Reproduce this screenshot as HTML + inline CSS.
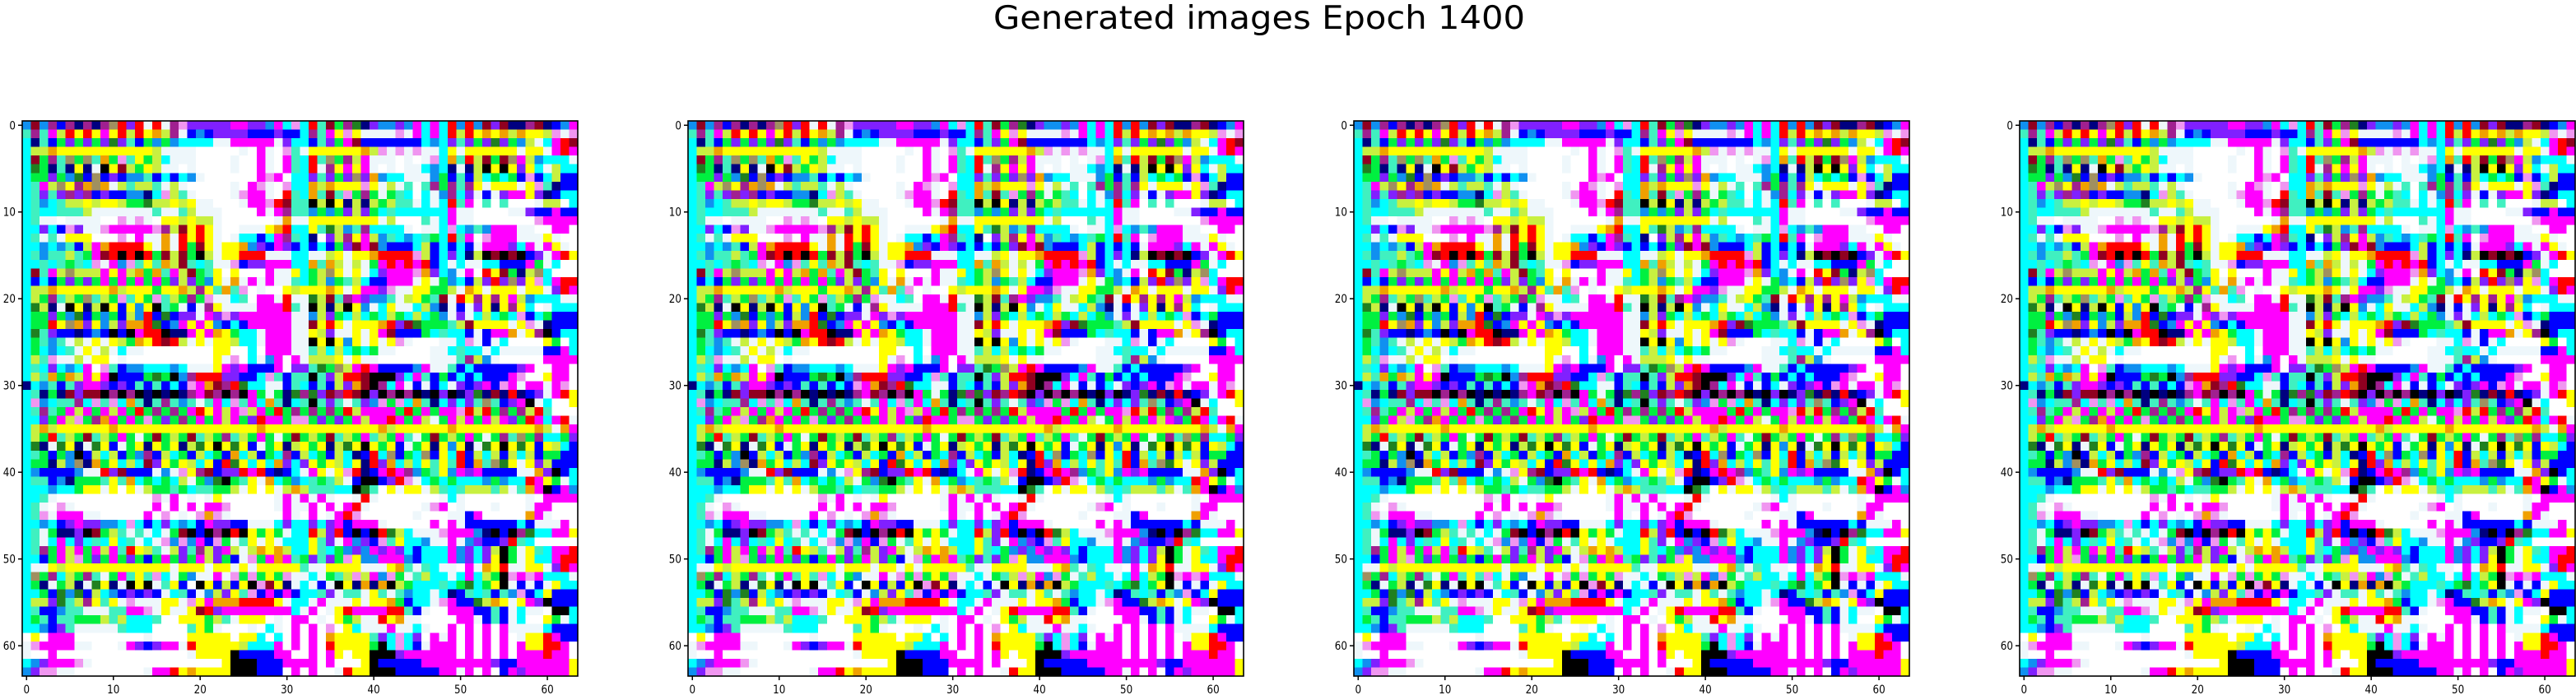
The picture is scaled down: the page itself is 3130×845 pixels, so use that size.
<!DOCTYPE html>
<html>
<head>
<meta charset="utf-8">
<style>
  html,body{margin:0;padding:0;background:#fff;}
  svg{display:block;}
  text{font-family:"DejaVu Sans","Liberation Sans",sans-serif;fill:#000;}
</style>
</head>
<body>
<svg id="fig" width="3130" height="845" viewBox="0 0 3130 845" xmlns="http://www.w3.org/2000/svg">
  <rect x="0" y="0" width="3130" height="845" fill="#fff"/>
  <text x="1530" y="35" font-size="39" text-anchor="middle" textLength="646" lengthAdjust="spacingAndGlyphs">Generated images Epoch 1400</text>
</svg>
<script>
const leftRows = [
"TrTpBpbpbpNRPRwRwpmPPPPPMMPPTMCm","cpcMyRYRYMYRyRYOypwBTBPPPPBBBPBB","CbcBGPGPGPgPcBGTGTCCCCwwMMMMMwPC","CyyOYYYYYYYYYYYywwwwWWWWWwWMwWmc",
"CrGpcNGNcOGmcYGyCwwwWWWWwWWMwWMc","CgGbcbYbwKYryGYywwWwWWWWwWWMwWMc","CGGPGTgBNBPBTTcBCBCTwWWWWWWMmMWC","CcMyNYpONOwycyycwywWWWWWwWMmwWmC",
"CcPcPpPpBPBBTTbCmycwWWWWwmMMwWRc","CcTCcyyYyYYyGGgyyYyYwwWWWwMMmRrc","CcCCcccywwwwwwwcwwcywwwWWWWMwMpc","CcwwWwwwwWWmwmwWYYyYyywWWWWWWwOw",
"CCPCBmPwwmMMMMMmpyrYRYwWWwwwYORC","CcwcwYYYWWWmWMwwOwRYRYwWwCCBCMpc","CCTCTcByMORRRRYwOwRGrYwYYOTPBMPB","CcTccycGMrRKRKRGryrGKywYYRRRwwwC",
"CCcCcGcCmwMTmcYcOyrcCcwwmBPPMMMC","CrcMyNyyyMYMyOGOcMyrGcYWYWWWMwwY","CBCBGPGPGMGMGMGMGPyPGTYwOwMwMwwc","CyyOYYYYYYOyYYYGYYOypYcOcmWwWWYy",
"CyGpcyGNcyGmcYGmcyGpGmwwCcWMMwRw","CgybwKYbyKYBYTYKcGwBwpYwwwwMMMRc","CGGPGTgBGTGByTRBgBPPwMPmPMMMMMMw","CGGRYNOPYTyPOORgBTMYMYTBCBMMMMMw",
"CgcPBBbBTBKBKMRRKbbMYMOYGCCwMMMw","CGcTcwywYwYyGOYRrRywYwYYyCCwMMMw","CGCTCcwYwywCwwWWWWWWWWYYWWCWMMMw","CycmwwywYYWwWWWWWWWWWWYwmWCwTMWM",
"CcCPCTCMWmcBTTCCCTCwwwYMPMBBBMWP","CycOGOyMYMKBBBGgGKTpRRRPPBBCmcBc","bCTcBcPMMPBPBcBcBCBmMOrpRgCCwwBc","CcbGbrPrrKpKpKbKbKbpMrpKpKMGwGbg",
"CmTCccpCmcmCOcbcpcTcwcMCmcMCOcbC","CcpcGMyMGMyMGRGpGpGMRYMyMmyMGRGp","CCPGMymGpOMGMGmGPGpGMGMyMGPRMMGm","CyOyYYYYYYOYYYYYYYYYYYYYYYYOYYYY",
"CyGRcyGrcyGMGwGrGyGrcyGpcyGMGwGr","CgbwgYbwgYBwGYbYGYbygYKYgYBwGYby","CcGBGTKByCyBGTpByCGByCGBOCyBGCpB","CGGbyTNbOGYCyCrPYGYyCYBRgYCYCOPC",
"CTBBBBTwwRPrBBBwTwmYprBPPRMRBbBC","CccBTbGGGcYcOCGCGCywGTgKGcYwOCGT","CCCTCCGYYwYWYwyGGcGCccGGywYWYwyO","CCcwWWWWWWWWWWWmwMWwWwYWWWWWWwMw",
"CcwWmwWWWWWWWWWMWMWMWMMmWWWWWwMw","CcmwMMMwwWWWWWMWmWwWmOmwWWWWWWMw","CCTCBPMPPTTCmCBCPCTCBMPPBBwwwCPC","CcwGbbPKrGycwcwCwGrKBKpKRKYGYGwC",
"CcwCMCPCcCYCcwCwmTmTMBmGwcYwYwCC","CcpGMyMGMyMcRYycwyPcpyPMywyOYOyC","CCBGMymGPGMGPGBGMGPGMyPGBwmGMOMc","CwwYyYYYYYYYYYYYYwYYYwYYwYwYYYYY",
"CNGpCyGpcwGMcYcmCwGTwwMwmGmGYGmw","CGbwGybwgYbwKYKwcYBWKYByBYKmrYbw","CCGBgTgByCTBPBPBwCcBwTyPYcmBMBMB","CyyPgcypYcYwmwwwYYwmYMOOORRRRYwC",
"CcBBTccwwwccMMmwYwwYrRPMMMMMMMMC","CGcBccGGGycyCCCcWWYYYGycwYYYWwWM","CCTBPcwwwwwcCCCWWWWcYGwWWWwWCwWM","WYWMMMWWWWWWWWwWWWWYYYYYWYYCWCWM",
"wmMMMMwwWWWwMPBPMMwRYYYYYyCCCMWM","wWWMWWWWWWWWWWWWWWWwYYYYKBBBBMMW","CTPMMMmwWWWWWWWWWWWWWWWYKKKBBBMM","TPmmwwWWWWWWWWwMMRYOYYYYKKKBBBWM"
];
const rightRows = [
"CRcrGpgbPTTPTMCMCRTRTrPrbbprbBTM","CpcMYmYwwwwmwMCMCRyRYOYOyOYYymwm","CBcPGMrBBBBBBBCTCPcPGPgPGTywCMRr","wYYYYYYOymwmwmwwCYwYYYYYYwYYwMRM",
"CRcNGpyMwwwWwWwmCOcRyrGrNMyTCCCw","CRwpYMYMwWwWwwCTCbwbyKYKYPYCwyCC","CPcPGPNPOTCCwwwTGBcByCGCGBmBCyBB","COyOYYYmYwywcWcpGpcpYwYYYwYmcbBB",
"COcrcmGpGwGcCWCwTpCPwBwPMMYPbBCC","cKyKYbybyGyccwCwCRcMWcWcWWWwyyWC","cTGTGPyPGCcCCCCCCMwwWWWWwwPBBMBB","wYYYYYYYYwyWWWcwCMwwWWWWWWWmMMMM",
"CYcgyTcpCCCCwWwwCmCTcTMMMwwWWMMW","CbWPypYMyTcCTCcGCRcMWmMMMwwwYwWW","CBCBGPrMrTBBBCyBCBCBwMMMPCMwMYwW","CwwyYwYYORRRRmyBCPCbyKrKrKBPwMRY",
"COcOywywGMRMRMRBCwCwwCCBBBMGwCWW","CGyNYwYwCPMMMmOPCTwMWRYrGbyNCWWW","CGyTGcyCBBMMMwYwGTCByPRPNPYmCMRR","YYYOYwYMMPmwwYYGGywOYwYYYwYYwPRM",
"wgyrcpMPTTcwyYGcrwRYpYpYMyTCCCww","wKybyKYTwCYwwCyTbwBwPYbYpYCWwCCC","wTyPGCyCGCyGCyCGTwPwCyCGCmBCGBBB","wrYRYwYYYORPrgGGGcyrYYYYwYmwbBBB",
"wYyPwwYwYMrBBBGCcCCBwBMMOwYpKBCC","wKYKYTYwYwYmwWWWwwCmwBwCWWWWYGWC","wcyCyCGCGwwWWWWwwCcCCwCwwwwwBBMC","wyyyYwYwwWWWWWWwwwcpyTwWWWWWMMMM",
"PcgGNyMRMBBBBTMwwcBCBBBBBPMWWMMW","cKcPyRRrKKKPCMcBGBCBCBBBMmWWYMMW","CBcByPOrKpCMwBwBCwPBPMBmMwMMwMmW","pgPrpRrKPKpKpKbKPKbPgbrbRbBPwMRY",
"cKcPcwcPTmGmCOcbCPCPcNcBPMKwCWWY","GpGpGRyMMMMGRGMGMMmRyRGpGpyRcWWW","mGPGPGMyMMRMGMywGMyMGMyMPGRMCMRw","YYYYYYYYYOyYYYYYYOYYYYYYYYYOywOM",
"GyGrcyGMcyGMcwGrGyGMGwGpcNGpCCGP","YGYbygYKYGYBwGYbYTYbwgYKYgYBYyCB","yCGByCbBRCNBGCNBYCRByCyByCyBGGBB","PYGYyCYbRPOCyCYcYcRBOcNgYwYPyBBB",
"wMYwYmRbBMRMpTGcYTMPMBBBBwwOPKBC","CcGcywBKKBPRmwCGCGCCCTGTCCRMYGwC","ycccCCKgcWYwYYwycCcyyycywcOMKBMT","MwMwWWwRwWWWWWWWwCwWWWWWWWwWMMMM",
"wMWMWMRwWWWWWWwmMWwWWWwWWWwMMWWW","WMWwMRmWWWWWWwWWWwwBMWWWWWOMwWWW","CPCPMBMMMwWWWWWMWMwBBBBBBCBwwwMW","CRyPRBKBKRgyCwwwmMMMTbKBKpgCCMMY",
"CYcPwMTPBmcYCCTwwMwTPBBPRcCWWWWW","CYcCGTPTMPMPCBCCCMTPCPyKGwYcCMMR","GPcPGmYTTMMMTBCCCMTPCPYKGwYCCMRR","cwwYYYYwwwYOcwcCwwWMwOYRwwYYwPRM",
"wCwGcymyMTmGwcyCCwCMCyGKmMmMCCCw","CwBwKYbObOKyGCCCcCGgCGYKwBwBwYCC","CCcPwccwYcwcTCCwCbBcCcBcTmBCYBBB","CwMwwwYwYYOGBCCwmMBBgyOYwYMPKBBB",
"wMWwYRMMMMRRcBwWWMMMBBcBwCwwWKKC","MWwWYGywwRYOwwWWWWMMwBcBwCWWYGwC","WMWmWYCwwwMwwCwWWMWMWMWMwwwwCBBB","WMWOYYYYcPCmCPWMwMWMWMWMWwYYRMBB",
"WMWRYYYYGKCmCBwMMMWMWMWMWMYYRRMW","WMWMYWYYKKKPMMMMMMWMWMWMWMMMRMMW","MMWMWWWYKBBBBBMMMMMMMMPBBMMMMMMY","WMWWwRYYKKKBBBBBMMwMWMWBMPMMMMMY"
];
const xTickValues = [0,10,20,30,40,50,60];
const yTickValues = [0,10,20,30,40,50,60];
const panelCount = 4;

const palette = {
  W:"#ffffff", w:"#eef7fb", C:"#00ffff", c:"#40f0c0", M:"#ff00ff", m:"#f096f0",
  Y:"#ffff00", y:"#c8f040", G:"#00f040", g:"#208020", B:"#0000ff", b:"#000080",
  P:"#8020ff", p:"#a02090", R:"#ff0000", r:"#900020", K:"#000000", O:"#f0a000",
  T:"#1090f0", N:"#a09060"
};
function fit(s){ s = s || ""; while(s.length<32) s += s.length ? s[s.length-1] : "W"; return s.slice(0,32); }
const grid = [];
for (let r=0;r<64;r++){ grid.push(fit(leftRows[r]) + fit(rightRows[r])); }

const NS = "http://www.w3.org/2000/svg";
const svg = document.getElementById("fig");
const axTop = 147, axSize = 675, n = 64, cell = axSize/n;
function panelLeft(p){ return 27 + 809*p; }
function xScale(p, v){ return panelLeft(p) + (v+0.5)*cell; }
function yScale(v){ return axTop + (v+0.5)*cell; }

for (let p=0;p<panelCount;p++){
  const g = document.createElementNS(NS,"g");
  
  
  g.setAttribute("shape-rendering","crispEdges");
  svg.appendChild(g);
  const x0 = panelLeft(p);
  for (let r=0;r<n;r++){
    const row = grid[r];
    for (let c=0;c<n;c++){
      const rect = document.createElementNS(NS,"rect");
      
      
      rect.setAttribute("x", (x0 + c*cell).toFixed(2));
      rect.setAttribute("y", (axTop + r*cell).toFixed(2));
      rect.setAttribute("width", (cell+0.4).toFixed(2));
      rect.setAttribute("height", (cell+0.4).toFixed(2));
      rect.setAttribute("fill", palette[row[c]] || "#ffffff");
      g.appendChild(rect);
    }
  }
  const frame = document.createElementNS(NS,"rect");
  
  
  frame.setAttribute("x", x0); frame.setAttribute("y", axTop);
  frame.setAttribute("width", axSize); frame.setAttribute("height", axSize);
  frame.setAttribute("fill","none"); frame.setAttribute("stroke","#000"); frame.setAttribute("stroke-width","1.6");
  svg.appendChild(frame);

  xTickValues.forEach(v=>{
    const x = xScale(p, v);
    const t = document.createElementNS(NS,"line");
    
    
    t.setAttribute("x1",x); t.setAttribute("x2",x);
    t.setAttribute("y1",axTop+axSize); t.setAttribute("y2",axTop+axSize+5);
    t.setAttribute("stroke","#000"); t.setAttribute("stroke-width","1.5");
    svg.appendChild(t);
    const lab = document.createElementNS(NS,"text");
    
    
    const s = String(v);
    lab.setAttribute("x",x); lab.setAttribute("y",843);
    lab.setAttribute("font-size","14"); lab.setAttribute("text-anchor","middle");
    lab.setAttribute("textLength", (7.6*s.length).toFixed(1));
    lab.setAttribute("lengthAdjust","spacingAndGlyphs");
    lab.textContent = s;
    svg.appendChild(lab);
  });
  yTickValues.forEach(v=>{
    const y = yScale(v);
    const t = document.createElementNS(NS,"line");
    
    
    t.setAttribute("x1",x0-5); t.setAttribute("x2",x0);
    t.setAttribute("y1",y); t.setAttribute("y2",y);
    t.setAttribute("stroke","#000"); t.setAttribute("stroke-width","1.5");
    svg.appendChild(t);
    const lab = document.createElementNS(NS,"text");
    
    
    const s = String(v);
    lab.setAttribute("x",x0-8); lab.setAttribute("y",y+5);
    lab.setAttribute("font-size","14"); lab.setAttribute("text-anchor","end");
    lab.setAttribute("textLength", (7.6*s.length).toFixed(1));
    lab.setAttribute("lengthAdjust","spacingAndGlyphs");
    lab.textContent = s;
    svg.appendChild(lab);
  });
}
</script>
</body>
</html>
